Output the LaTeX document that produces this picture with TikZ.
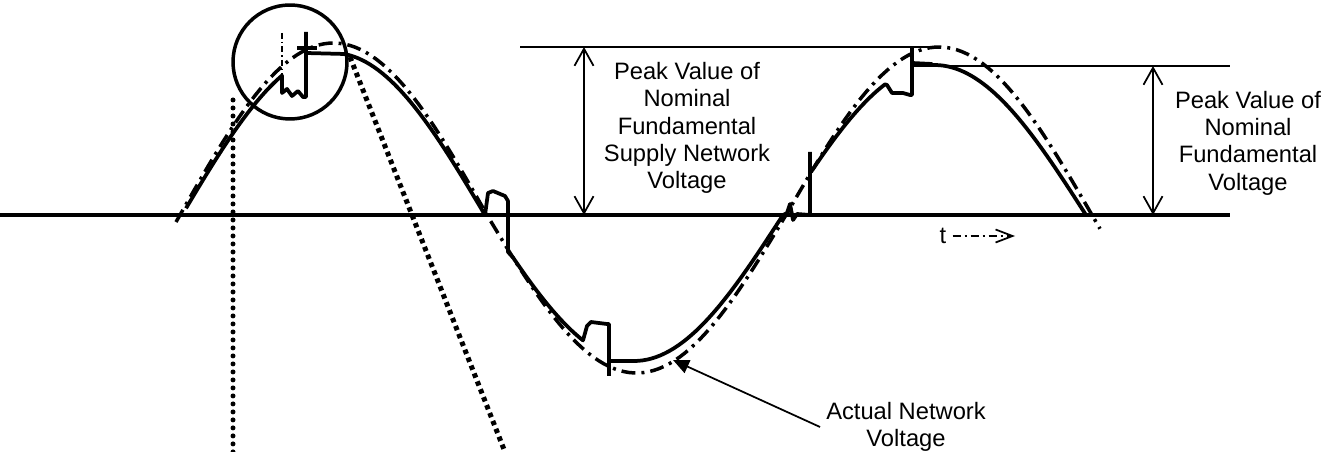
\documentclass[tikz,border=0pt]{standalone}
\usepackage{fontspec}
\setmainfont{Liberation Sans}
\usepackage{tikz}
\usetikzlibrary{arrows.meta,calc}

\begin{document}
\begin{tikzpicture}[x=0.02cm,y=-0.02cm,
  actual/.style={line width=0.75mm,line join=round},
  nominal/.style={line width=0.7mm,dash pattern=on 2.8mm off 1.2mm on 0.6mm off 1.2mm},
  level/.style={line width=0.35mm},
  peakarrow/.style={line width=0.35mm,
    {Straight Barb[length=3.4mm,width=3.8mm]}-{Straight Barb[length=3.4mm,width=3.8mm]}},
  timearrow/.style={line width=0.35mm,dash pattern=on 1.6mm off 0.8mm on 0.4mm off 0.8mm,
    -{Straight Barb[length=3.4mm,width=2.6mm]}},
  lbl/.style={align=center,font=\fontsize{13.5}{15.6}\selectfont},
  rounddots/.style={line width=1mm,line cap=round,dash pattern=on 0pt off 1.6mm},
  squaredots/.style={line width=1mm,dash pattern=on 0.9mm off 0.8mm},
]
\useasboundingbox (0,0) rectangle (1325,452);

\coordinate (axisL) at (0,215);
\coordinate (axisR) at (1230,215);
\draw[line width=0.85mm] (axisL) -- (axisR);

\draw[nominal]
  plot[domain=176:487,samples=60] (\x,{215-172*sin(180/307*(\x-180))})
  -- plot[domain=487:786,samples=60] (\x,{215+158*sin(180/299*(\x-487))})
  -- plot[domain=786:1100,samples=60] (\x,{215-168*sin(180/306*(\x-786))});

\draw[actual]
  plot[domain=186:282,samples=25] (\x,{215-162*sin(180/303*(\x-182))})
  -- (282,93) -- (287,89) -- (292,96) -- (298,91) -- (303,97) -- (306,97) -- (306,32)
  (306,53) -- (345,54)
  -- plot[domain=345:485,samples=35] (\x,{215-162*sin(180/303*(\x-182))})
  -- (488,193) -- (493,191) -- (505,196) -- (508,201) -- (508,252)
  -- plot[domain=513:583,samples=20] (\x,{215+146*sin(180/298*(\x-485))})
  -- (587,326) -- (591,322) -- (607,324) -- (609,324) -- (609,376)
  (609,361) -- (634,361)
  -- plot[domain=634:783,samples=35] (\x,{215+146*sin(180/298*(\x-485))})
  -- (787,213) -- (790,204) -- (793,220) -- (797,214) -- (810,215) -- (810,152)
  (810,170)
  -- plot[domain=813:885,samples=20] (\x,{215-150*sin(180/303*(\x-783))})
  -- (887,85) -- (892,93) -- (903,93) -- (910,95) -- (912,95) -- (912,48)
  (912,63) -- (932,64)
  -- plot[domain=932:1086,samples=40] (\x,{215-150*sin(180/303*(\x-783))});
\draw[actual] (297,48) -- (317,48);

\node[draw,circle,line width=0.7mm,minimum size=2.28cm,inner sep=0pt] (ring) at (290,62) {};
\draw[line width=0.4mm,dash pattern=on 1.2mm off 0.6mm on 0.3mm off 0.6mm] (282,33) -- (282,80);

\coordinate (vtop) at (233,100);
\coordinate (vbot) at (233,452);
\draw[rounddots] (vtop) -- (vbot);
\coordinate (stop) at (350,57);
\coordinate (sbot) at (505,452);
\draw[squaredots] (stop) -- (sbot);

\coordinate (lvlA1) at (520,47);
\coordinate (lvlA2) at (932,47);
\coordinate (lvlB1) at (912,66);
\coordinate (lvlB2) at (1230,66);
\draw[level] (lvlA1) -- (lvlA2);
\draw[level] (lvlB1) -- (lvlB2);
\draw[peakarrow] (584,47) -- (584,215);
\draw[peakarrow] (1153,66) -- (1153,215);

\node[lbl] (nomlbl) at (687,128) {Peak Value of\\Nominal\\Fundamental\\Supply Network\\Voltage};
\node[lbl] (fundlbl) at (1248,143) {Peak Value of\\Nominal\\Fundamental\\Voltage};
\node[lbl] (actlbl) at (906,427) {Actual Network\\Voltage};
\node[lbl] (tlbl) at (943,236) {t};

\coordinate (tip) at (673,360);
\draw[line width=0.35mm,-{Triangle[length=3.2mm,width=2.8mm]}] (actlbl.west) -- (tip);
\coordinate (tend) at (1015,236);
\draw[timearrow] (tlbl.east) -- (tend);
\end{tikzpicture}
\end{document}
